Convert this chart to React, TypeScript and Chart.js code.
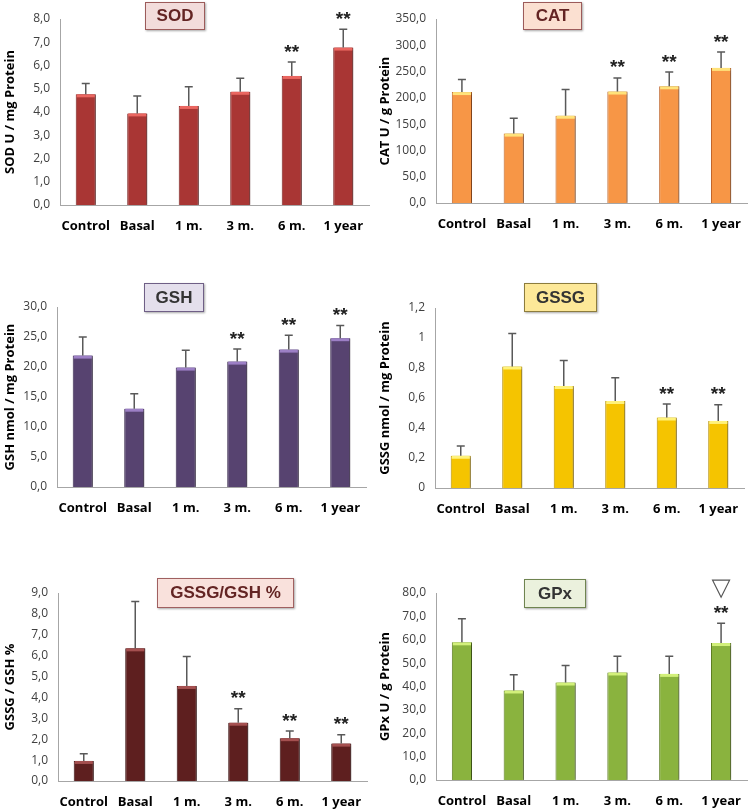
import React, { useEffect, useRef } from 'react';
import { Chart, registerables } from 'chart.js';

Chart.register(...registerables);

// ---------- data ----------
const categories = ['Control', 'Basal', '1 m.', '3 m.', '6 m.', '1 year'];

const sodValues = [4.76, 3.94, 4.26, 4.87, 5.55, 6.77];
const sodErrors = [0.47, 0.75, 0.83, 0.58, 0.6, 0.79];
const sodMarks = ['', '', '', '', '**', '**'];

const catValues = [211, 132, 166, 212, 222, 257];
const catErrors = [24, 29, 50, 26, 27, 30];
const catMarks = ['', '', '', '**', '**', '**'];

const gshValues = [21.9, 13.05, 19.9, 20.9, 22.9, 24.8];
const gshErrors = [3.1, 2.5, 2.9, 2.1, 2.4, 2.1];
const gshMarks = ['', '', '', '**', '**', '**'];

const gssgValues = [0.215, 0.81, 0.68, 0.58, 0.47, 0.447];
const gssgErrors = [0.065, 0.22, 0.17, 0.155, 0.09, 0.108];
const gssgMarks = ['', '', '', '', '**', '**'];

const ratioValues = [0.96, 6.35, 4.55, 2.79, 2.05, 1.79];
const ratioErrors = [0.35, 2.24, 1.41, 0.67, 0.34, 0.42];
const ratioMarks = ['', '', '', '**', '**', '**'];

const gpxValues = [58.9, 38.3, 41.7, 46.0, 45.4, 58.6];
const gpxErrors = [10.1, 6.7, 7.3, 6.9, 7.5, 8.5];
const gpxMarks = ['', '', '', '', '', '**'];
const gpxTriangles = [false, false, false, false, false, true];

const noTriangles = [false, false, false, false, false, false];

// ---------- layout / style ----------
type Panel = {
  title: string;
  yTitle: string;
  values: number[];
  errors: number[];
  marks: string[];
  triangles: boolean[];
  max: number;
  step: number;
  fixed: boolean;
  x: number;
  y: number;
  w: number;
  h: number;
  area: { left: number; right: number; top: number; bottom: number };
  bar: string;
  edge: string;
  hi: string;
  box: { x: number; y: number; w: number; h: number; fill: string; border: string; color: string; size: number };
};

const panels: Panel[] = [
  {
    title: 'SOD', yTitle: 'SOD U / mg Protein', values: sodValues, errors: sodErrors, marks: sodMarks, triangles: noTriangles,
    max: 8, step: 1, fixed: true, x: 0, y: 0, w: 375, h: 270,
    area: { left: 60, right: 369, top: 19, bottom: 205 },
    bar: '#a93634', edge: '#7b2221', hi: '#ea6660',
    box: { x: 145, y: 2, w: 60, h: 28, fill: '#f2dcdb', border: '#9c5b5a', color: '#632423', size: 17 },
  },
  {
    title: 'CAT', yTitle: 'CAT U / g Protein', values: catValues, errors: catErrors, marks: catMarks, triangles: noTriangles,
    max: 350, step: 50, fixed: true, x: 375, y: 0, w: 375, h: 270,
    area: { left: 61, right: 372, top: 19, bottom: 203 },
    bar: '#f79646', edge: '#c0652a', hi: '#ffe27a',
    box: { x: 148, y: 2, w: 59, h: 28, fill: '#fbe0d1', border: '#9c5b5a', color: '#632423', size: 17 },
  },
  {
    title: 'GSH', yTitle: 'GSH nmol / mg Protein', values: gshValues, errors: gshErrors, marks: gshMarks, triangles: noTriangles,
    max: 30, step: 5, fixed: true, x: 0, y: 270, w: 375, h: 270,
    area: { left: 57, right: 366, top: 37, bottom: 217 },
    bar: '#574370', edge: '#3b2b50', hi: '#9c7fc5',
    box: { x: 144, y: 13, w: 60, h: 29, fill: '#e4dfec', border: '#6f5f86', color: '#333333', size: 17 },
  },
  {
    title: 'GSSG', yTitle: 'GSSG nmol / mg Protein', values: gssgValues, errors: gssgErrors, marks: gssgMarks, triangles: noTriangles,
    max: 1.2, step: 0.2, fixed: false, x: 375, y: 270, w: 375, h: 270,
    area: { left: 60, right: 369, top: 38, bottom: 218 },
    bar: '#f5c400', edge: '#b89000', hi: '#fff27a',
    box: { x: 149, y: 13, w: 73, h: 29, fill: '#fde898', border: '#8c7c3d', color: '#333333', size: 17 },
  },
  {
    title: 'GSSG/GSH %', yTitle: 'GSSG / GSH %', values: ratioValues, errors: ratioErrors, marks: ratioMarks, triangles: noTriangles,
    max: 9, step: 1, fixed: true, x: 0, y: 540, w: 375, h: 271,
    area: { left: 58, right: 367, top: 53, bottom: 241 },
    bar: '#5e1f1f', edge: '#3c1010', hi: '#a55050',
    box: { x: 157, y: 38, w: 137, h: 30, fill: '#f9e1dc', border: '#a06060', color: '#632423', size: 17 },
  },
  {
    title: 'GPx', yTitle: 'GPx U / g Protein', values: gpxValues, errors: gpxErrors, marks: gpxMarks, triangles: gpxTriangles,
    max: 80, step: 10, fixed: true, x: 375, y: 540, w: 375, h: 271,
    area: { left: 61, right: 372, top: 53, bottom: 240 },
    bar: '#8ab33e', edge: '#5d7d22', hi: '#d2f07a',
    box: { x: 149, y: 39, w: 62, h: 29, fill: '#ebf1dd', border: '#6f8450', color: '#333333', size: 17 },
  },
];

const decoPlugin = {
  id: 'deco',
  beforeDatasetDraw(chart: any) {
    const ctx = chart.ctx;
    ctx.save();
    ctx.shadowColor = 'rgba(0,0,0,0.35)';
    ctx.shadowOffsetX = 2;
    ctx.shadowOffsetY = 0;
    ctx.shadowBlur = 2;
  },
  afterDatasetDraw(chart: any) {
    chart.ctx.restore();
  },
  afterDatasetsDraw(chart: any, _args: any, opts: any) {
    const p: Panel = opts.panel;
    if (!p) return;
    const ctx = chart.ctx;
    const yScale = chart.scales.y;
    const meta = chart.getDatasetMeta(0);
    meta.data.forEach((bar: any, i: number) => {
      const { x, y, width } = bar.getProps(['x', 'y', 'width'], true);
      // top highlight
      ctx.save();
      ctx.fillStyle = p.hi;
      ctx.fillRect(x - width / 2 + 1, y, width - 2, 3);
      ctx.restore();
      // error bar
      const yTop = yScale.getPixelForValue(p.values[i] + p.errors[i]);
      ctx.save();
      ctx.strokeStyle = '#595959';
      ctx.lineWidth = 1.5;
      ctx.beginPath();
      ctx.moveTo(x, y);
      ctx.lineTo(x, yTop);
      ctx.moveTo(x - 4, yTop);
      ctx.lineTo(x + 4, yTop);
      ctx.stroke();
      ctx.restore();
      // significance marks
      if (p.marks[i]) {
        ctx.save();
        ctx.font = 'bold 19px "Liberation Sans", Arial, sans-serif';
        ctx.fillStyle = '#222';
        ctx.textAlign = 'center';
        ctx.textBaseline = 'alphabetic';
        const m = ctx.measureText(p.marks[i]);
        const cy = yTop - 14;
        const base = cy + (m.actualBoundingBoxAscent - m.actualBoundingBoxDescent) / 2;
        ctx.fillText(p.marks[i], x, base);
        ctx.restore();
      }
      if (p.triangles[i]) {
        const tTop = yTop - 43;
        const tBot = yTop - 26;
        ctx.save();
        ctx.strokeStyle = '#555';
        ctx.fillStyle = '#fff';
        ctx.lineWidth = 1.2;
        ctx.beginPath();
        ctx.moveTo(x - 8.5, tTop);
        ctx.lineTo(x + 8.5, tTop);
        ctx.lineTo(x, tBot);
        ctx.closePath();
        ctx.fill();
        ctx.stroke();
        ctx.restore();
      }
    });
  },
};

function fmt(v: number, fixed: boolean): string {
  const s = fixed ? v.toFixed(1) : String(Number(v.toFixed(1)));
  return s.replace('.', ',');
}

function PanelChart({ p }: { p: Panel }) {
  const ref = useRef<HTMLCanvasElement | null>(null);
  useEffect(() => {
    if (!ref.current) return;
    const chart = new Chart(ref.current, {
      type: 'bar',
      data: {
        labels: categories,
        datasets: [
          {
            data: p.values,
            backgroundColor: p.bar,
            borderColor: p.edge,
            borderWidth: 1,
            barPercentage: 0.39,
            categoryPercentage: 1,
          },
        ],
      },
      options: {
        responsive: false,
        maintainAspectRatio: false,
        animation: false,
        devicePixelRatio: 1,
        layout: { padding: { left: 0, top: p.area.top, right: p.w - p.area.right, bottom: 0 } },
        plugins: {
          legend: { display: false },
          tooltip: { enabled: false },
          deco: { panel: p },
        } as any,
        scales: {
          x: {
            grid: { display: false, drawTicks: false },
            border: { display: true, color: '#a6a6a6', width: 1 },
            ticks: {
              color: '#000',
              font: { family: '"Open Sans", sans-serif', size: 13, weight: 'bold' },
              padding: 13,
              maxRotation: 0,
              autoSkip: false,
            },
            afterFit: (s: any) => {
              s.height = p.h - p.area.bottom;
              s.paddingLeft = 0;
              s.paddingRight = 0;
            },
          },
          y: {
            min: 0,
            max: p.max,
            grid: { display: false, drawTicks: false },
            border: { display: true, color: '#a6a6a6', width: 1 },
            ticks: {
              stepSize: p.step,
              color: '#404040',
              font: { family: '"Open Sans", sans-serif', size: 12 },
              padding: 10,
              callback: (v: any) => fmt(Number(v), p.fixed),
            },
            title: {
              display: true,
              text: p.yTitle,
              color: '#000',
              font: { family: '"Open Sans", sans-serif', size: 13, weight: 'bold' },
              padding: { top: 2, bottom: 0 },
            },
            afterFit: (s: any) => {
              s.width = p.area.left;
              s.paddingTop = 0;
              s.paddingBottom = 0;
            },
          },
        },
      } as any,
      plugins: [decoPlugin as any],
    });
    return () => chart.destroy();
  }, [p]);

  return (
    <div style={{ position: 'absolute', left: p.x, top: p.y, width: p.w, height: p.h }}>
      <canvas ref={ref} width={p.w} height={p.h} style={{ display: 'block', width: p.w, height: p.h }} />
      <div
        style={{
          position: 'absolute',
          left: p.box.x,
          top: p.box.y,
          width: p.box.w,
          height: p.box.h,
          boxSizing: 'border-box',
          background: p.box.fill,
          border: `1px solid ${p.box.border}`,
          boxShadow: '1px 1px 2px rgba(0,0,0,0.35)',
          color: p.box.color,
          fontFamily: '"Liberation Sans", Arial, sans-serif',
          fontWeight: 'bold',
          fontSize: p.box.size,
          display: 'flex',
          alignItems: 'center',
          justifyContent: 'center',
          whiteSpace: 'nowrap',
        }}
      >
        {p.title}
      </div>
    </div>
  );
}

export default function App() {
  return (
    <div style={{ position: 'absolute', left: 0, top: 0, width: 750, height: 811, background: '#fff', overflow: 'hidden' }}>
      {panels.map((p) => (
        <PanelChart key={p.title} p={p} />
      ))}
    </div>
  );
}
